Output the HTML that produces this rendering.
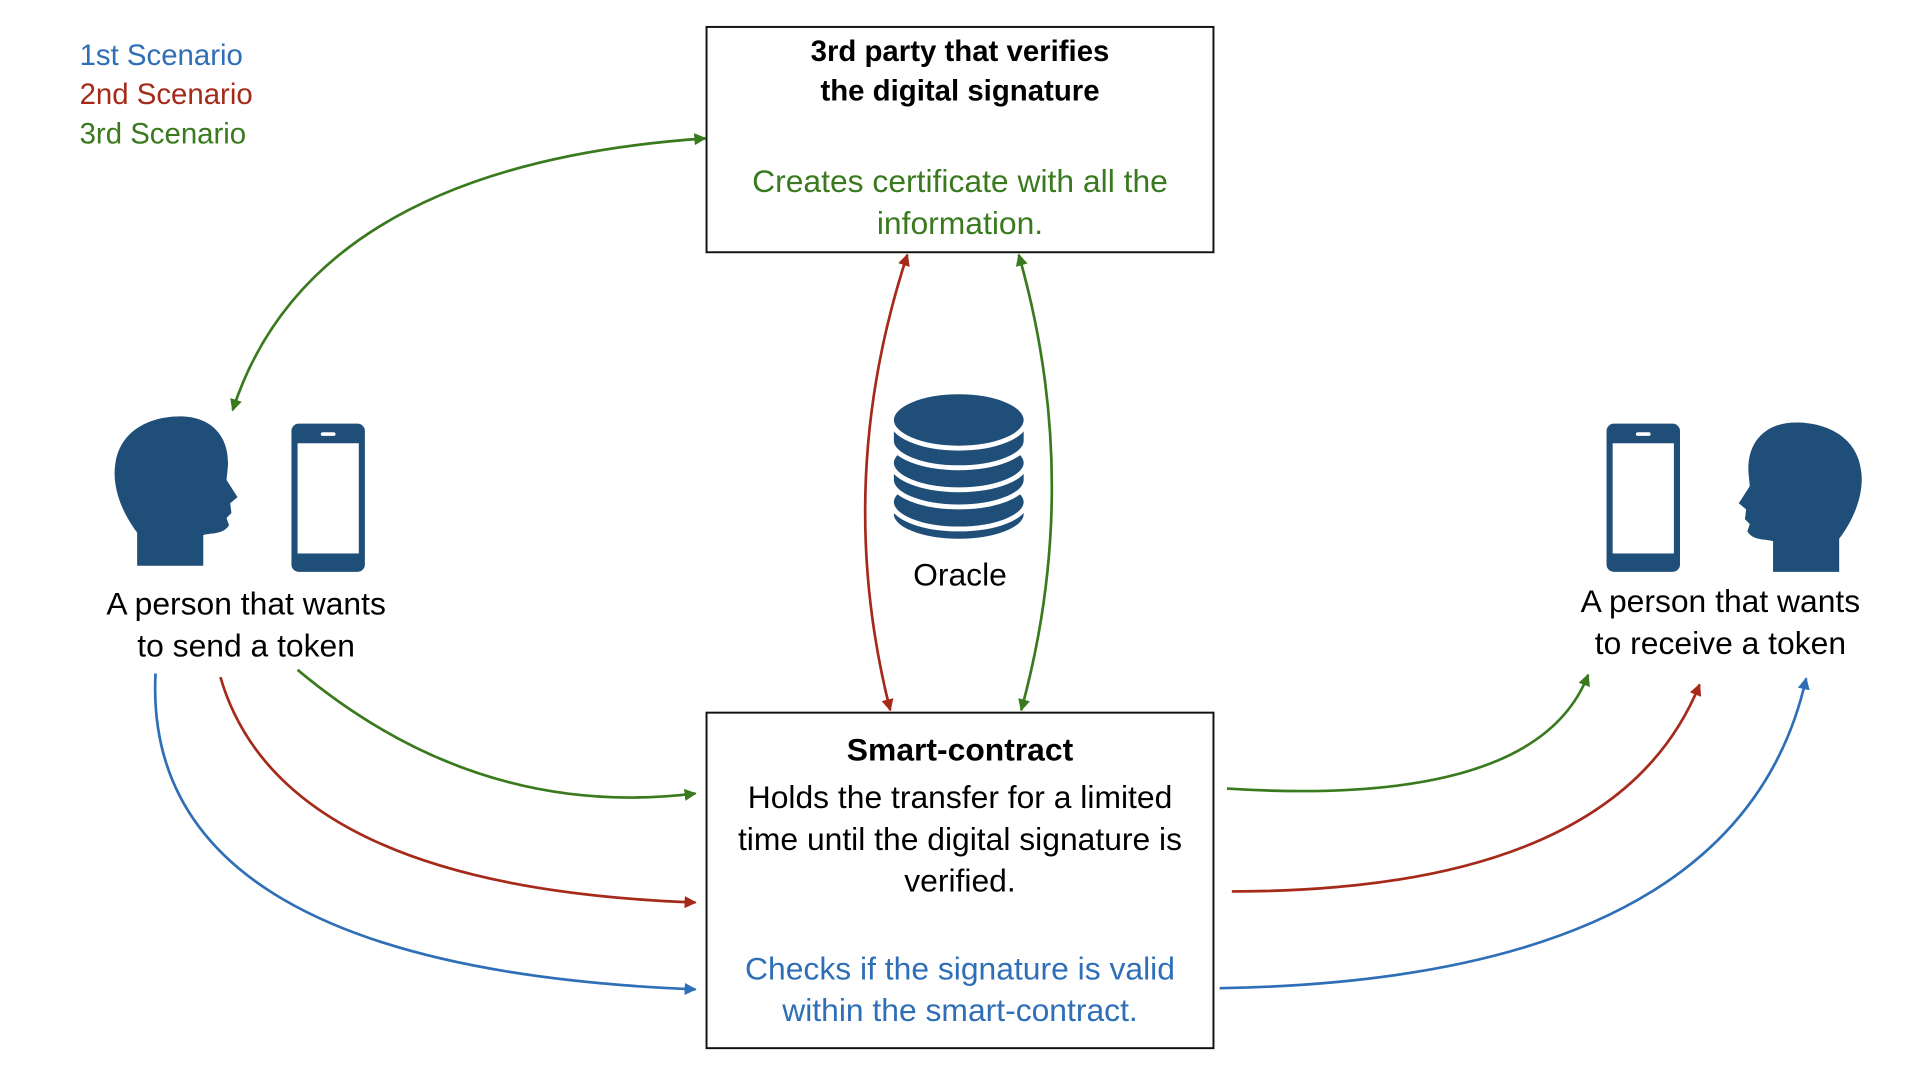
<!DOCTYPE html>
<html><head><meta charset="utf-8"><style>html,body{margin:0;padding:0;background:#fff}svg{display:block}</style></head>
<body>
<svg width="1920" height="1080" viewBox="0 0 1568 882" preserveAspectRatio="none" xmlns="http://www.w3.org/2000/svg" font-family="Liberation Sans, Helvetica, Arial, sans-serif">
<defs>
<marker id="mg" viewBox="0 0 10 10" refX="9" refY="5" markerWidth="4.5" markerHeight="4.5" orient="auto-start-reverse"><path d="M0,0 L10,5 L0,10 Z" fill="#3a7a1e"/></marker>
<marker id="mr" viewBox="0 0 10 10" refX="9" refY="5" markerWidth="4.5" markerHeight="4.5" orient="auto-start-reverse"><path d="M0,0 L10,5 L0,10 Z" fill="#a52a1a"/></marker>
<marker id="mb" viewBox="0 0 10 10" refX="9" refY="5" markerWidth="4.5" markerHeight="4.5" orient="auto-start-reverse"><path d="M0,0 L10,5 L0,10 Z" fill="#2e6fb7"/></marker>
<g id="head"><path d="M20,122 L20,95 C5,75 0,55 2,40 C5,12 30,0 55,0 C82,0 96,18 94,42 L93,52 L102,66 L96,71 L97,79 L93,83 L95,89 C90,97 80,95 74,97 L74,122 Z" fill="#1f4e79"/></g>
<g id="phone"><rect x="0" y="0" width="60" height="121" rx="6" fill="#1f4e79"/><rect x="5" y="16" width="50" height="90" fill="#fff"/><rect x="24" y="7" width="12" height="3" rx="1.5" fill="#fff"/></g>
</defs>

<g font-size="24">
<text x="65" y="53" fill="#2e6fb7">1st Scenario</text>
<text x="65" y="85" fill="#a52a1a">2nd Scenario</text>
<text x="65" y="117" fill="#3a7a1e">3rd Scenario</text>
</g>

<rect x="577" y="22" width="414" height="184" fill="none" stroke="#111" stroke-width="1.6"/>
<g text-anchor="middle">
<text x="784" y="50" font-size="24" font-weight="bold">3rd party that verifies</text>
<text x="784" y="82" font-size="24" font-weight="bold">the digital signature</text>
<text x="784" y="157" font-size="26" fill="#3a7a1e">Creates certificate with all the</text>
<text x="784" y="191" font-size="26" fill="#3a7a1e">information.</text>
</g>

<rect x="577" y="582" width="414" height="274" fill="none" stroke="#111" stroke-width="1.6"/>
<g text-anchor="middle" font-size="26">
<text x="784" y="621" font-weight="bold">Smart-contract</text>
<text x="784" y="660">Holds the transfer for a limited</text>
<text x="784" y="694">time until the digital signature is</text>
<text x="784" y="728">verified.</text>
<text x="784" y="800" fill="#2e6fb7">Checks if the signature is valid</text>
<text x="784" y="834" fill="#2e6fb7">within the smart-contract.</text>
</g>

<g fill="#1f4e79" stroke="#fff" stroke-width="4">
<path d="M728,410 L728,420 A55,22 0 0 0 838,420 L838,410 Z"/>
<ellipse cx="783" cy="410" rx="55" ry="22"/>
<path d="M728,378 L728,392 A55,22 0 0 0 838,392 L838,378 Z"/>
<ellipse cx="783" cy="378" rx="55" ry="22"/>
<path d="M728,345 L728,360 A55,22 0 0 0 838,360 L838,345 Z"/>
<ellipse cx="783" cy="343" rx="55" ry="23"/>
</g>
<text x="784" y="478" font-size="26" text-anchor="middle">Oracle</text>

<use href="#head" x="92" y="340"/>
<use href="#phone" x="238" y="346"/>
<use href="#phone" x="1312" y="346"/>
<use href="#head" transform="translate(1522,345) scale(-1,1)"/>
<g text-anchor="middle" font-size="26">
<text x="201" y="502">A person that wants</text>
<text x="201" y="536">to send a token</text>
<text x="1405" y="500">A person that wants</text>
<text x="1405" y="534">to receive a token</text>
</g>

<g fill="none" stroke-width="2.2">
<path d="M190,335 Q255,135 576,113" stroke="#3a7a1e" marker-start="url(#mg)" marker-end="url(#mg)"/>
<path d="M741,208 Q680,394 727,580" stroke="#a52a1a" marker-start="url(#mr)" marker-end="url(#mr)"/>
<path d="M832,208 Q885,394 834,580" stroke="#3a7a1e" marker-start="url(#mg)" marker-end="url(#mg)"/>
<path d="M243,547 Q390,670 568,648" stroke="#3a7a1e" marker-end="url(#mg)"/>
<path d="M180,553 Q230,725 568,737" stroke="#a52a1a" marker-end="url(#mr)"/>
<path d="M127,550 Q115,790 568,808" stroke="#2e6fb7" marker-end="url(#mb)"/>
<path d="M1002,644 Q1255,660 1297,551" stroke="#3a7a1e" marker-end="url(#mg)"/>
<path d="M1006,728 Q1320,728 1388,559" stroke="#a52a1a" marker-end="url(#mr)"/>
<path d="M996,807 Q1420,800 1475,554" stroke="#2e6fb7" marker-end="url(#mb)"/>
</g>
</svg>
</body></html>
